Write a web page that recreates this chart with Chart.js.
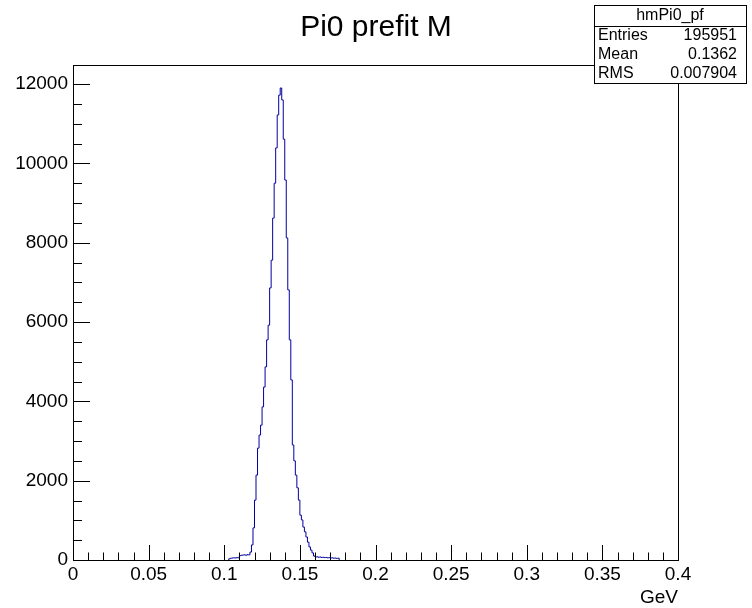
<!DOCTYPE html>
<html><head><meta charset="utf-8">
<script src="https://cdn.jsdelivr.net/npm/chart.js@4/dist/chart.umd.min.js"></script>
<style>html,body{margin:0;padding:0;background:#fff;}#wrap{width:752px;height:608px;}</style>
</head><body><div id="wrap"><canvas id="c" width="752" height="608"></canvas></div>
<script>
const chartTitle = 'Pi0 prefit M';
const xAxisTitle = 'GeV';
const histName = 'hmPi0_pf';
const statLabels = ['Entries', 'Mean', 'RMS'];
const statValues = ['195951', '0.1362', '0.007904'];

// histogram: 400 bins of 0.001 on [0, 0.4]; only non-empty bins listed, starting at 0.103
const binStart = 0.103;
const binWidth = 0.001;
const counts = [
  30, 45, 50, 55, 50, 60, 55,
  110, 120, 125, 130, 120, 135, 130,
  200, 380, 810, 1510, 2140, 2820, 3150, 3400, 3860, 4360,
  4870, 5550, 5920, 6860, 7560, 8620, 9500, 10390, 11220, 11720,
  11900, 11600, 10610, 9580, 8120, 6810, 5550, 4540, 2900, 2500,
  2140, 1820, 1510, 1130, 1010, 830, 710, 580, 450, 330,
  250, 180, 100,
  75, 80, 70, 75, 65, 70, 60, 65, 55, 60, 50, 55,
  45, 50, 40, 45
];

const xTickValues = [0, 0.05, 0.1, 0.15, 0.2, 0.25, 0.3, 0.35, 0.4];
const xTickLabels = ['0', '0.05', '0.1', '0.15', '0.2', '0.25', '0.3', '0.35', '0.4'];
const yTickValues = [0, 2000, 4000, 6000, 8000, 10000, 12000];
const yTickLabels = ['0', '2000', '4000', '6000', '8000', '10000', '12000'];
const xMinorStep = 0.01;
const yMinorStep = 500;
const xRange = [0, 0.4];
const yRange = [0, 12480];

const FONT = "'Liberation Sans', Arial, Helvetica, sans-serif";

// build step points (value of each bin held from its left edge to its right edge)
const pts = [{x: binStart, y: 0}];
counts.forEach((c, i) => pts.push({x: binStart + i * binWidth, y: c}));
pts.push({x: binStart + counts.length * binWidth, y: 0});

const rootDecor = {
  id: 'rootDecor',
  afterDatasetsDraw(chart) {
    const {ctx, chartArea: a, scales: {x, y}} = chart;
    ctx.save();
    ctx.strokeStyle = '#000';
    ctx.lineWidth = 1;
    // frame
    ctx.strokeRect(Math.round(a.left) + 0.5, Math.round(a.top) + 0.5,
                   Math.round(a.right - a.left), Math.round(a.bottom - a.top));
    ctx.beginPath();
    // x ticks (inside, upward)
    const nx = Math.round((xRange[1] - xRange[0]) / xMinorStep);
    for (let i = 0; i <= nx; i++) {
      const v = xRange[0] + i * xMinorStep;
      const px = Math.round(x.getPixelForValue(v)) + 0.5;
      const major = i % 5 === 0;
      ctx.moveTo(px, a.bottom);
      ctx.lineTo(px, a.bottom - (major ? 15 : 7.5));
    }
    // y ticks (inside, rightward)
    for (let v = 0; v <= yRange[1]; v += yMinorStep) {
      const py = Math.round(y.getPixelForValue(v)) + 0.5;
      const major = v % 2000 === 0;
      ctx.moveTo(a.left, py);
      ctx.lineTo(a.left + (major ? 17 : 9), py);
    }
    ctx.stroke();

    // stats box
    const bx = 594, by = 5, bw = 152, bh = 78;
    ctx.fillStyle = '#fff';
    ctx.fillRect(bx, by, bw, bh);
    ctx.strokeRect(bx + 0.5, by + 0.5, bw, bh);
    ctx.beginPath();
    ctx.moveTo(bx, by + 21.5);
    ctx.lineTo(bx + bw, by + 21.5);
    ctx.stroke();
    ctx.fillStyle = '#000';
    ctx.font = '16px ' + FONT;
    ctx.textBaseline = 'middle';
    ctx.textAlign = 'center';
    ctx.fillText(histName, bx + bw / 2, by + 11);
    const rowY = [36, 55, 74];
    statLabels.forEach((l, i) => {
      ctx.textAlign = 'left';
      ctx.fillText(l, bx + 4, rowY[i]);
      ctx.textAlign = 'right';
      ctx.fillText(statValues[i], bx + bw - 9, rowY[i]);
    });
    ctx.restore();
  }
};

new Chart(document.getElementById('c'), {
  type: 'line',
  data: {
    datasets: [{
      data: pts,
      stepped: true,
      borderColor: '#0000a0',
      borderWidth: 1,
      pointRadius: 0,
      fill: false,
      tension: 0,
      xAxisID: 'x',
      yAxisID: 'y'
    }]
  },
  options: {
    responsive: false,
    animation: false,
    devicePixelRatio: 1,
    layout: {padding: 0},
    plugins: {
      legend: {display: false},
      tooltip: {enabled: false},
      title: {
        display: true,
        text: chartTitle,
        color: '#000',
        font: {family: FONT, size: 30, weight: 'normal', lineHeight: 1.2},
        padding: {top: 10, bottom: 19}
      }
    },
    scales: {
      x: {
        type: 'linear',
        min: xRange[0], max: xRange[1],
        grid: {display: false, drawTicks: false},
        border: {display: false},
        afterBuildTicks: s => { s.ticks = xTickValues.map(v => ({value: v})); },
        afterFit: s => { s.height = 48; },
        ticks: {
          color: '#000',
          padding: 3,
          maxRotation: 0,
          autoSkip: false,
          font: {family: FONT, size: 19},
          callback: (v, i) => xTickLabels[i]
        },
        title: {
          display: true,
          text: xAxisTitle,
          align: 'end',
          color: '#000',
          font: {family: FONT, size: 19, lineHeight: 1},
          padding: {top: 0, bottom: 1}
        }
      },
      y: {
        type: 'linear',
        position: 'left',
        min: yRange[0], max: yRange[1],
        grid: {display: false, drawTicks: false},
        border: {display: false},
        afterBuildTicks: s => { s.ticks = yTickValues.map(v => ({value: v})); },
        afterFit: s => { s.width = 73; },
        ticks: {
          color: '#000',
          padding: 5,
          autoSkip: false,
          font: {family: FONT, size: 19},
          callback: (v, i) => yTickLabels[i]
        }
      },
      yRightMargin: {
        type: 'linear',
        position: 'right',
        min: yRange[0], max: yRange[1],
        grid: {display: false, drawTicks: false},
        border: {display: false},
        ticks: {display: false},
        afterFit: s => { s.width = 74; }
      }
    }
  },
  plugins: [rootDecor]
});
</script>
</body></html>
